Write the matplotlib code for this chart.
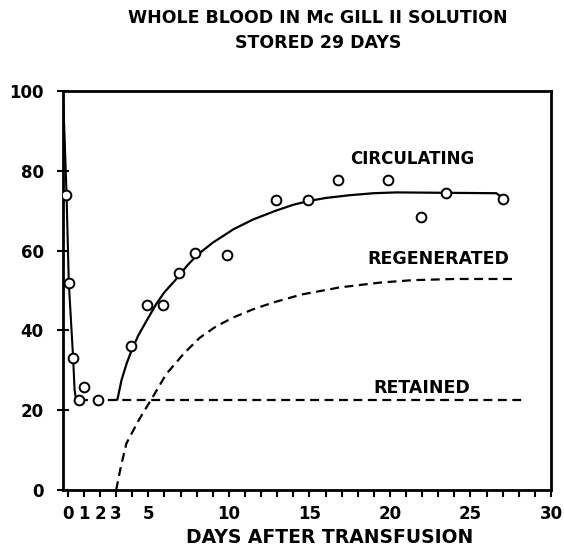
import matplotlib
matplotlib.use("Agg")
import matplotlib.pyplot as plt

# observed points (days after transfusion, % of transfused cells)
days = [-0.1, 0.05, 0.3, 0.7, 1.0, 1.9, 3.9, 4.9, 5.9, 6.9, 7.9, 9.9,
        12.9, 14.9, 16.8, 19.9, 21.9, 23.5, 27.0]
pct = [74, 52, 33, 22.5, 25.7, 22.5, 36, 46.5, 46.5, 54.5, 59.5, 58.8,
       72.7, 72.6, 77.7, 77.7, 68.5, 74.4, 72.9]

# initial fall of circulating cells
fall_x = [-0.3, -0.08, 0.06, 0.33, 0.42, 0.5, 0.69]
fall_y = [100, 74, 52, 33, 25, 23, 22.5]

# circulating curve (recovery)
circ_x = [3.08, 3.33, 3.65, 3.96, 4.37, 4.9, 5.5, 6.0, 6.65, 7.4, 8.0, 9.0,
          10.3, 11.5, 12.9, 14.0, 14.9, 16.0, 17.5, 19.0, 20.4, 23.4, 26.6,
          27.1]
circ_y = [22.7, 27.5, 31.7, 35, 38.7, 42.5, 46.7, 49.6, 52.5, 56.2, 58.8, 62,
          65.4, 67.8, 70, 71.5, 72.4, 73.2, 73.9, 74.4, 74.6, 74.5, 74.4,
          73]

# retained level
ret_x = [0.7, 28.3]
ret_y = [22.5, 22.5]

# regenerated curve
regen_x = [3.0, 3.3, 3.64, 4.4, 5.3, 6.1, 7.2, 8.2, 9.2, 10.3, 11.5, 12.75,
           14.5, 16.9, 19.4, 21.4, 24.0, 27.6]
regen_y = [0, 6, 11.7, 17.5, 23.5, 29, 34.2, 38.2, 41, 43.3, 45.3, 47,
           49, 50.8, 52, 52.6, 52.9, 52.9]

xtick_pos = list(range(0, 31))
xtick_lab = ["0", "1", "2", "3", "", "5", "", "", "", "", "10", "", "", "",
             "", "15", "", "", "", "", "20", "", "", "", "", "25", "", "",
             "", "", "30"]
ytick_pos = [0, 20, 40, 60, 80, 100]

plt.rcParams['font.family'] = 'DejaVu Sans'
plt.rcParams['font.weight'] = 'bold'

fig = plt.figure(figsize=(5.64, 5.48), dpi=100)
ax = fig.add_axes([0.1117, 0.1058, 0.8652, 0.728])

ax.plot(fall_x, fall_y, color='black', lw=1.5)
ax.plot(circ_x, circ_y, color='black', lw=1.6)
ax.plot(ret_x, ret_y, color='black', lw=1.6, dashes=(4, 2.5))
ax.plot(regen_x, regen_y, color='black', lw=1.6, dashes=(4, 2.5))
ax.plot(days, pct, 'o', ms=7, mfc='white', mec='black', mew=1.4, zorder=5)

ax.text(21.4, 83, "CIRCULATING", ha='center', va='center', fontsize=12, fontweight='bold')
ax.text(23.0, 58, "REGENERATED", ha='center', va='center', fontsize=12.5, fontweight='bold')
ax.text(22.0, 25.5, "RETAINED", ha='center', va='center', fontsize=12.5, fontweight='bold')

ax.set_xlim(-0.3, 30)
ax.set_ylim(0, 100)
ax.set_xticks(xtick_pos)
ax.set_xticklabels(xtick_lab)
ax.set_yticks(ytick_pos)
ax.set_yticklabels([str(v) for v in ytick_pos])
ax.tick_params(axis='x', direction='out', length=5, width=1.5, labelsize=12, pad=6)
ax.tick_params(axis='y', direction='inout', length=8, width=1.5, labelsize=12, pad=10)
for s in ax.spines.values():
    s.set_linewidth(2)

fig.text(0.564, 0.967, "WHOLE BLOOD IN Mc GILL II SOLUTION", ha='center', va='center',
         fontsize=12.5, fontweight='bold')
fig.text(0.564, 0.921, "STORED 29 DAYS", ha='center', va='center',
         fontsize=12.5, fontweight='bold')
fig.text(0.585, 0.02, "DAYS AFTER TRANSFUSION", ha='center', va='center',
         fontsize=13.5, fontweight='bold')

fig.savefig("out.png", dpi=100)
